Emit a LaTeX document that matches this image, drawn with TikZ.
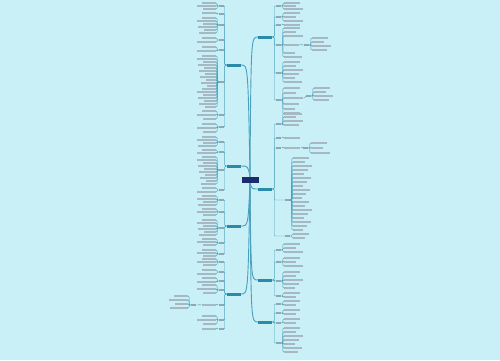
\documentclass[tikz,border=0pt]{standalone}
\usetikzlibrary{positioning,calc}
\definecolor{bgcyan}{RGB}{201,239,247}
\definecolor{rootnavy}{RGB}{28,42,110}
\definecolor{topicteal}{RGB}{42,138,170}
\definecolor{linkteal}{RGB}{72,160,188}
\definecolor{textgrey}{RGB}{118,146,160}

\tikzset{
  root/.style={fill=rootnavy, minimum width=17pt, minimum height=6pt, inner sep=0pt},
  topic/.style={fill=topicteal, minimum width=14pt, minimum height=3pt, inner sep=0pt},
  subtopic/.style={fill=textgrey!80, minimum width=5pt, minimum height=1.3pt, inner sep=0pt},
  leaf/.style={fill=textgrey!65, minimum width=#1, minimum height=1.1pt, inner sep=0pt},
  trunk/.style={draw=linkteal, line width=0.9pt},
  twig/.style={draw=linkteal, line width=0.35pt, rounded corners=1pt},
}

% right hand group: parent, name, x, y, leaf rows
\newcommand{\rightgroup}[5]{%
  \node[subtopic, anchor=west] (#2) at (#3,#4) {};
  \draw[twig] (#1.east) -- ++(2,0) |- (#2.west);
  \foreach \ly [count=\i] in {#5} {
    \pgfmathtruncatemacro{\lw}{9+mod(\i*7,11)}
    \node[leaf=\lw pt, anchor=west] (#2-\i) at (#3+8,\ly) {};
    \draw[twig] (#2.east) -- ++(1.5,0) |- (#2-\i.west);
  }
}
% left hand group
\newcommand{\leftgroup}[5]{%
  \node[subtopic, anchor=east] (#2) at (#3,#4) {};
  \draw[twig] (#1.west) -- ++(-2,0) |- (#2.east);
  \foreach \ly [count=\i] in {#5} {
    \pgfmathtruncatemacro{\lw}{9+mod(\i*5,11)}
    \node[leaf=\lw pt, anchor=east] (#2-\i) at (#3-8,\ly) {};
    \draw[twig] (#2.west) -- ++(-1.5,0) |- (#2-\i.east);
  }
}

\begin{document}
\begin{tikzpicture}[x=1pt,y=-1pt]
  \fill[bgcyan] (0,0) rectangle (500,360);

  \node[root]  (root) at (250,180) {};
  \node[topic] (L1) at (234,65)  {};
  \node[topic] (L2) at (234,166) {};
  \node[topic] (L3) at (234,226) {};
  \node[topic] (L4) at (234,294) {};
  \node[topic] (R1) at (265,37)  {};
  \node[topic] (R2) at (265,189) {};
  \node[topic] (R3) at (265,280) {};
  \node[topic] (R4) at (265,322) {};

  \draw[trunk] (root.north) .. controls (248,65)  .. (L1.east);
  \draw[trunk] (root.north) .. controls (248,166) .. (L2.east);
  \draw[trunk] (root.south) .. controls (248,226) .. (L3.east);
  \draw[trunk] (root.south) .. controls (248,294) .. (L4.east);
  \draw[trunk] (root.north) .. controls (251,37)  .. (R1.west);
  \draw[trunk] (root.south) .. controls (252,189) .. (R2.west);
  \draw[trunk] (root.south) .. controls (251,280) .. (R3.west);
  \draw[trunk] (root.south) .. controls (251,322) .. (R4.west);

  % left, upper
  \leftgroup{L1}{la}{224}{6}{3,6,9}
  \leftgroup{L1}{lb}{224}{14}{13}
  \leftgroup{L1}{lc}{224}{25}{18,21,24,27,30,33}
  \leftgroup{L1}{ld}{224}{40}{38,42}
  \leftgroup{L1}{le}{224}{50}{47,51}
  \leftgroup{L1}{lf}{224}{82}{56,59,62,65,68,71,74,77,80,83,86,89,92,95,98,101,104,107}
  \leftgroup{L1}{lg}{224}{115}{111,115,119}
  \leftgroup{L1}{lh}{224}{127}{124,128,132}

  \leftgroup{L2}{ma}{224}{142}{137,140,143,146}
  \leftgroup{L2}{mb}{224}{152}{150,153}
  \leftgroup{L2}{mc}{224}{170}{157,160,163,166,169,172,175,178,181,184}
  \leftgroup{L2}{md}{224}{190}{188,192}

  % left, lower
  \leftgroup{L3}{na}{224}{200}{196,199,202,205}
  \leftgroup{L3}{nb}{224}{212}{209,212,215}
  \leftgroup{L3}{nc}{224}{228}{220,223,226,229,232,235}
  \leftgroup{L3}{nd}{224}{243}{239,242,245}
  \leftgroup{L3}{ne}{224}{254}{250,253,256}

  \leftgroup{L4}{oa}{224}{262}{259,262,265}
  \leftgroup{L4}{ob}{224}{272}{270,274}
  \leftgroup{L4}{oc}{224}{281}{278,282}
  \leftgroup{L4}{od}{224}{290}{285,289,293}
  \leftgroup{L4}{oe}{224}{305}{305}
  \leftgroup{oe-1}{of}{196}{305}{296,300,304,308}
  \leftgroup{L4}{og}{224}{320}{316,320,324}
  \leftgroup{L4}{oh}{224}{329}{329}

  % right, upper
  \rightgroup{R1}{ra}{276}{6}{3,6,9}
  \rightgroup{R1}{rb}{276}{17}{13,17,21}
  \rightgroup{R1}{rc}{276}{25}{25}
  \rightgroup{R1}{rd}{276}{45}{28,32,36,45,53,57}
  \rightgroup{rd-4}{re}{304}{45}{38,42,46,50}
  \rightgroup{R1}{rf}{276}{73}{62,66,70,74,78,82}
  \rightgroup{R1}{rg}{276}{100}{88,93,98,104,109,114}
  \rightgroup{rg-3}{rh}{306}{96}{88,92,96,100}

  \rightgroup{R2}{sa}{276}{124}{113,117,121,125}
  \rightgroup{R2}{sb}{276}{138}{138}
  \rightgroup{R2}{sc}{276}{148}{148}
  \rightgroup{sc-1}{sd}{303}{148}{143,148,153}
  \rightgroup{R2}{se}{285}{200}{158,162,166,170,174,178,182,186,190,194,198,202,206,210,214,218,222,226,230}
  \rightgroup{R2}{sf}{285}{236}{234,238}

  % right, lower
  \rightgroup{R3}{ta}{276}{250}{244,248,252}
  \rightgroup{R3}{tb}{276}{262}{258,262,266}
  \rightgroup{R3}{tc}{276}{281}{272,276,280,284,288}
  \rightgroup{R3}{td}{276}{296}{293,297}

  \rightgroup{R4}{ua}{276}{304}{301,305}
  \rightgroup{R4}{ub}{276}{313}{310,314}
  \rightgroup{R4}{uc}{276}{323}{319,323}
  \rightgroup{R4}{ud}{276}{343}{328,332,336,340,344,348,352}
\end{tikzpicture}
\end{document}
